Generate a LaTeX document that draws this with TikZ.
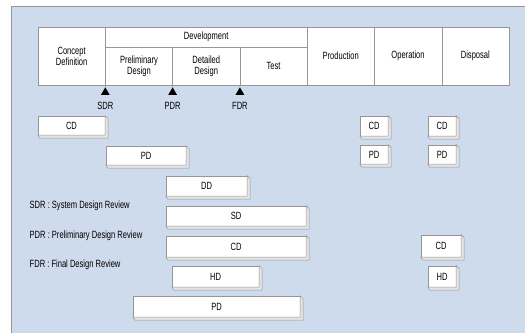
\documentclass[tikz,border=0pt]{standalone}
\usepackage{fontspec}
\setmainfont{Liberation Sans}[FakeStretch=0.72]
\usetikzlibrary{shapes.geometric,calc}
\definecolor{panel}{RGB}{206,219,236}
\definecolor{edge}{RGB}{150,150,150}
\definecolor{bevel}{RGB}{228,228,228}
\begin{document}
\begin{tikzpicture}[x=1pt,y=-1pt,
  every node/.style={font=\fontsize{10.5}{11}\selectfont},
  cell/.style={draw=edge,fill=white,inner sep=0pt,align=center,
    minimum width=67.3pt,minimum height=58pt},
  subcell/.style={cell,minimum height=38pt},
  blk/.style={draw=edge,fill=white,inner sep=0pt,minimum height=20pt},
  milestone/.style={regular polygon,regular polygon sides=3,fill=black,
    inner sep=0pt,minimum size=10pt},
  legend/.style={anchor=west,inner sep=0pt}]
\useasboundingbox (0,0) rectangle (525,333);
% background panel
\fill[panel] (11,6) rectangle (525,333);
\draw[edge] (11,333) -- (11,6) -- (525,6);

% life-cycle table
\node[cell] (concept) at (71.65,56) {Concept\\Definition};
\node[cell,minimum width=201.8pt,minimum height=20pt] (devel) at (206.2,37) {Development};
\node[subcell] (prelim) at (138.95,66) {Preliminary\\Design};
\node[subcell] (detail) at (206.25,66) {Detailed\\Design};
\node[subcell] (test) at (273.5,66) {Test};
\node[cell] (prod) at (340.75,56) {Production};
\node[cell] (oper) at (408.05,56) {Operation};
\node[cell] (disp) at (475.35,56) {Disposal};

% review milestones
\node[milestone,anchor=south] (sdr) at (105.3,95) {};
\node[milestone,anchor=south] (pdr) at (172.6,95) {};
\node[milestone,anchor=south] (fdr) at (239.9,95) {};
\draw[edge] (concept.south east) -- (sdr.north);
\draw[edge] (prelim.south east) -- (pdr.north);
\draw[edge] (detail.south east) -- (fdr.north);
\node (sdrl) at (105.3,106) {SDR};
\node (pdrl) at (172.6,106) {PDR};
\node (fdrl) at (239.9,106) {FDR};

% activity blocks
\node[blk,minimum width=67pt,minimum height=19pt] (b1) at (71.5,125.5) {CD};
\node[blk,minimum width=80pt,minimum height=19pt] (b2) at (146,155.5) {PD};
\node[blk,minimum width=81pt] (b3) at (206.5,186) {DD};
\node[blk,minimum width=140pt] (b4) at (236,216) {SD};
\node[blk,minimum width=140pt,minimum height=21pt] (b5) at (236,246.5) {CD};
\node[blk,minimum width=87pt,minimum height=21pt] (b6) at (215.5,276.5) {HD};
\node[blk,minimum width=167pt,minimum height=21pt] (b7) at (216.5,306.5) {PD};
\node[blk,minimum width=28pt] (b8) at (374,126) {CD};
\node[blk,minimum width=28pt] (b9) at (442,126) {CD};
\node[blk,minimum width=28pt,minimum height=19pt] (b10) at (374,154.5) {PD};
\node[blk,minimum width=28pt,minimum height=19pt] (b11) at (442,154.5) {PD};
\node[blk,minimum width=40pt,minimum height=22pt] (b12) at (441,246) {CD};
\node[blk,minimum width=28pt,minimum height=21pt] (b13) at (442,276.5) {HD};

% bevelled edges of the blocks
\foreach \n in {b1,b2,b3,b4,b5,b6,b7,b8,b9,b10,b11,b12,b13}{
  \filldraw[fill=bevel,draw=edge,line width=0.5pt]
    (\n.north east) -- ++(3,3) |- ($(\n.south west)+(2,3)$)
    -- (\n.south west) -- (\n.south east) -- cycle;
}

% legend
\node[legend] (lg1) at (29.5,206) {SDR : System Design Review};
\node[legend] (lg2) at (29.5,236) {PDR : Preliminary Design Review};
\node[legend] (lg3) at (29.5,265) {FDR : Final Design Review};
\end{tikzpicture}
\end{document}
